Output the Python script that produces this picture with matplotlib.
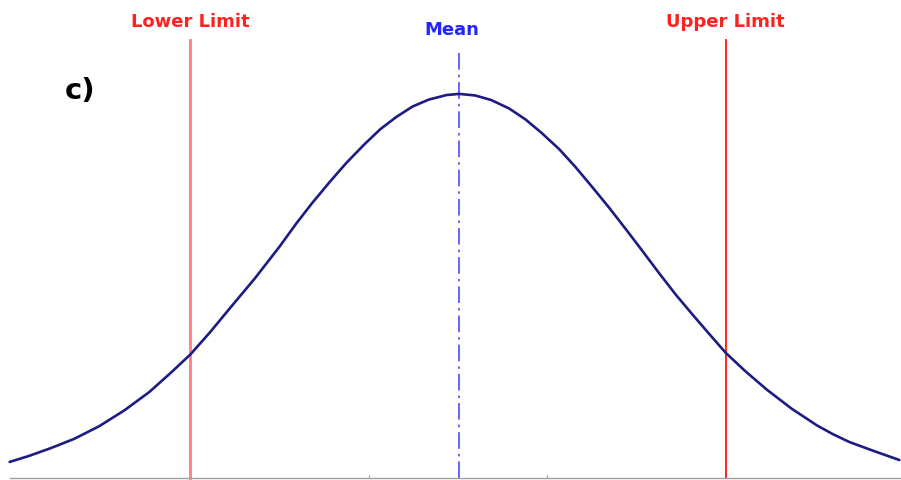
import matplotlib.pyplot as plt

# curve: x in standard deviations from the mean,
# y as height relative to the peak
curve_x = [-2.51, -2.40, -2.28, -2.15, -2.01, -1.87, -1.73, -1.61, -1.50,
           -1.39, -1.28, -1.14, -1.00, -0.91, -0.82, -0.72, -0.63, -0.53,
           -0.44, -0.35, -0.26, -0.17, -0.07, 0.00, 0.09, 0.18, 0.28, 0.37,
           0.46, 0.56, 0.65, 0.74, 0.84, 0.93, 1.02, 1.12, 1.21, 1.30, 1.40,
           1.49, 1.60, 1.72, 1.86, 2.00, 2.09, 2.18, 2.32, 2.46]
curve_y = [0.042, 0.058, 0.078, 0.102, 0.135, 0.176, 0.224, 0.274, 0.322,
           0.380, 0.442, 0.520, 0.604, 0.662, 0.716, 0.772, 0.820, 0.868,
           0.908, 0.940, 0.967, 0.985, 0.997, 1.000, 0.996, 0.984, 0.962, 0.934,
           0.899, 0.856, 0.810, 0.760, 0.703, 0.649, 0.594, 0.532, 0.478, 0.428, 0.374,
           0.326, 0.278, 0.230, 0.180, 0.137, 0.114, 0.094, 0.070, 0.047]

lower_limit = -1.50
upper_limit = 1.49
mean = 0.0
base_ticks = [-0.50, 0.49]

fig = plt.figure(figsize=(9.01, 4.81), dpi=100)
ax = fig.add_axes([0, 0, 1, 1])
ax.set_xlim(-2.564, 2.469)
ax.set_ylim(-0.005, 1.247)

for s in ["top", "right", "left"]:
    ax.spines[s].set_visible(False)
ax.spines["bottom"].set_position(("data", 0))
ax.spines["bottom"].set_bounds(-2.51, 2.47)
ax.spines["bottom"].set_color("#a0a0a0")
ax.spines["bottom"].set_linewidth(1.0)
ax.set_yticks([])
ax.set_xticks(base_ticks)
ax.set_xticklabels([])
ax.tick_params(axis="x", direction="in", length=2, color="#a0a0a0")

ax.plot(curve_x, curve_y, color="#1c1c84", lw=1.9, solid_capstyle="round",
        solid_joinstyle="round", zorder=3)

ax.plot([lower_limit, lower_limit], [0, 1.14], color="#ff7f7f", lw=2.0, zorder=2)
ax.plot([upper_limit, upper_limit], [0, 1.14], color="#ff1010", lw=1.3, zorder=2)
ax.plot([mean, mean], [0, 1.11], color="#4c4cff", lw=1.2,
        linestyle=(0, (10, 3, 1.5, 3)), zorder=2)

font = "DejaVu Sans"
ax.text(lower_limit, 1.19, "Lower Limit", color="#ff2020", fontsize=13,
        fontweight="bold", family=font, ha="center", va="center")
ax.text(upper_limit, 1.19, "Upper Limit", color="#ff2020", fontsize=13,
        fontweight="bold", family=font, ha="center", va="center")
ax.text(-0.04, 1.168, "Mean", color="#2424ff", fontsize=13,
        fontweight="bold", family=font, ha="center", va="center")
ax.text(-2.20, 1.01, "c)", color="black", fontsize=21,
        fontweight="bold", family=font, ha="left", va="center")

fig.savefig("out.png", dpi=100)
